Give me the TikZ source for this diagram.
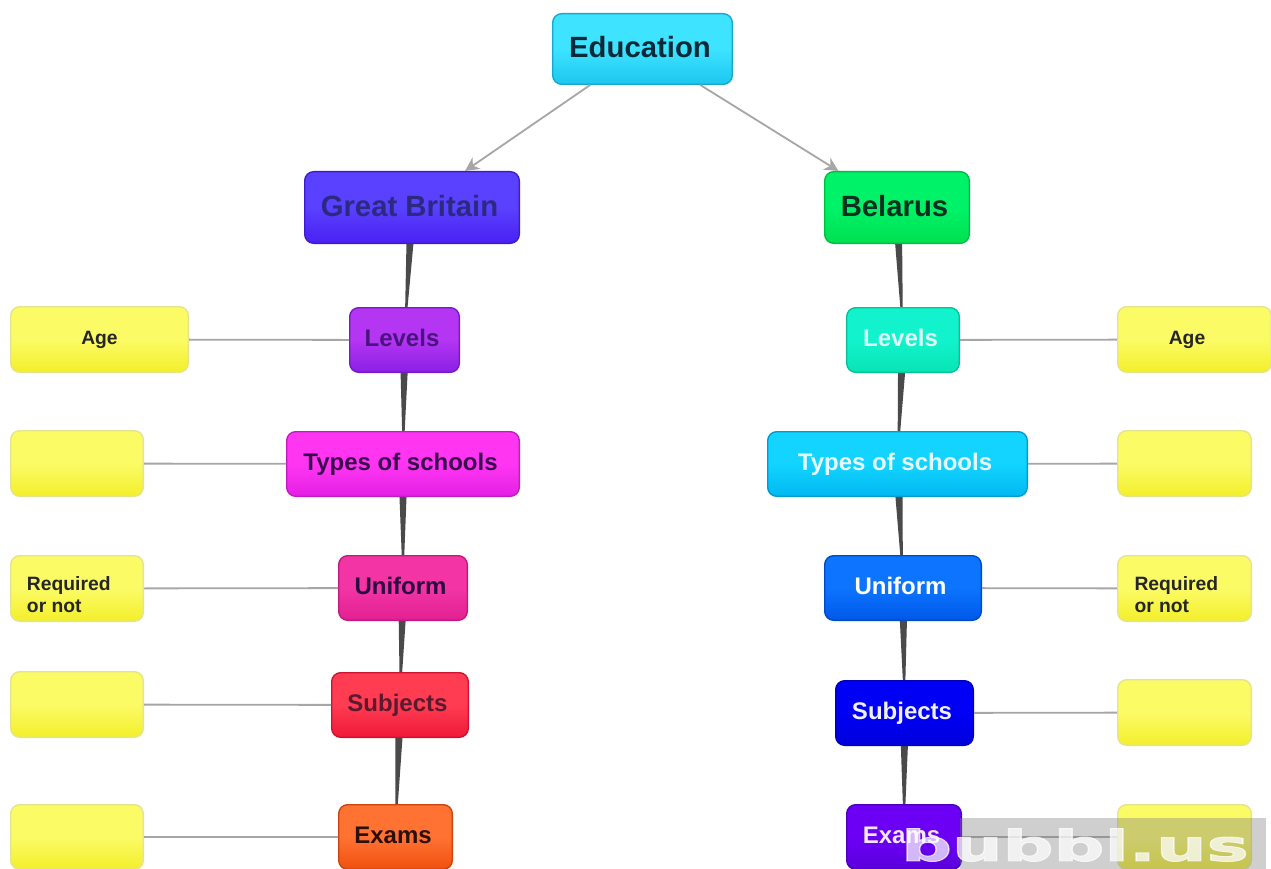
\documentclass[tikz,border=0pt]{standalone}
\usepackage{fontspec}
\setmainfont{Liberation Sans}
\newfontfamily\wmfont[BoldFont={DejaVu Sans Bold},BoldFeatures={FakeBold=2}]{DejaVu Sans}
\usetikzlibrary{calc,backgrounds,arrows.meta}
\definecolor{linegray}{HTML}{A6A6A6}
\definecolor{wedgegray}{HTML}{4A4A4A}
\tikzset{
  x=1pt,y=-1pt,
  box/.style={rectangle,rounded corners=9pt,line width=1.4pt,inner sep=0pt,font=\bfseries\fontsize{24}{27}\selectfont},
  colored/.style={box,text height=18pt,text depth=4.9pt,execute at begin node={\kern-5pt}},
  big/.style={font=\bfseries\fontsize{29.3}{32}\selectfont,text height=22pt,text depth=4.9pt},
  yel/.style={box,draw=yelb,top color=yelt,bottom color=yelb2,middle color=yelt,text=black!85,font=\bfseries\fontsize{19.3}{22}\selectfont},
  link/.style={draw=linegray,line width=1.8pt},
  arrowlink/.style={link,-{Stealth[length=14pt,width=14pt]}},
  taper/.style={fill=wedgegray}
}
\definecolor{yelt}{HTML}{FBFB66}
\definecolor{yelb}{HTML}{E4E48C}
\definecolor{yelb2}{HTML}{F3EF2A}
% name, x1, y1, x2, y2, top, bottom, text colour, style, text
\newcommand{\bx}[9]{%
  \pgfmathsetmacro{\cx}{(#2+#4)/2}\pgfmathsetmacro{\cy}{(#3+#5)/2}%
  \pgfmathsetmacro{\bw}{#4-#2-1.4}\pgfmathsetmacro{\bh}{#5-#3-1.4}%
  \definecolor{tc}{HTML}{#6}\definecolor{bc}{HTML}{#7}\definecolor{fc}{HTML}{#8}%
  \node[colored,draw=bc!85!black,top color=tc,bottom color=bc,middle color=tc,text=fc,minimum width=\bw pt,minimum height=\bh pt,#9] (#1) at (\cx,\cy)}
\newcommand{\yb}[5]{%
  \pgfmathsetmacro{\cx}{(#2+#4)/2}\pgfmathsetmacro{\cy}{(#3+#5)/2}%
  \pgfmathsetmacro{\bw}{#4-#2-1.4}\pgfmathsetmacro{\bh}{#5-#3-1.4}%
  \node[yel,minimum width=\bw pt,minimum height=\bh pt] (#1) at (\cx,\cy)}
\newcommand{\reqtext}{\raisebox{-11.5pt}[0pt][0pt]{\parbox{100pt}{\raggedright Required\\or not}}}
\newcommand{\tapered}[2]{\fill[taper] ($(#1.center)+(-4.8,0)$) -- ($(#1.center)+(4.8,0)$) -- (#2.center) -- cycle;}
\begin{document}
\begin{tikzpicture}
\useasboundingbox (0,0) rectangle (1271,869);
\clip (0,0) rectangle (1271,869);

\bx{edu}{552}{13}{733}{85}{3DE3FF}{1CC6EE}{0A2A3A}{big}{Education};
\bx{gb}{304}{171}{520}{244}{5A40FF}{4A20F2}{2C2A80}{big}{Great Britain};
\bx{by}{824}{171}{970}{244}{00F268}{00E050}{0A3020}{big}{Belarus};

\bx{lvL}{349}{307}{460}{373}{B435F2}{8A20E4}{4A1480}{}{Levels};
\bx{tyL}{286}{431}{520}{497}{FF35F2}{E420E4}{3A0A50}{}{Types of schools};
\bx{unL}{338}{555}{468}{621}{F234A4}{E22092}{2A0A40}{}{Uniform};
\bx{suL}{331}{672}{469}{738}{FF3C52}{F01838}{5A1A30}{}{Subjects};
\bx{exL}{338}{804}{453}{870}{FF7232}{F05010}{2A1008}{}{Exams};

\bx{lvR}{846}{307}{960}{373}{12F2CC}{08E4B4}{DCFFF6}{}{Levels};
\bx{tyR}{767}{431}{1028}{497}{12D4FF}{00B8F0}{E4FAFF}{}{Types of schools};
\bx{unR}{824}{555}{982}{621}{0C74FF}{0058E8}{FFFFFF}{}{Uniform};
\bx{suR}{835}{680}{974}{746}{0000F4}{0000DC}{F0F0FF}{}{Subjects};
\bx{exR}{846}{804}{962}{870}{6C00F4}{5A00DC}{F4E8FF}{}{Exams};

\yb{a1}{10}{306}{189}{373}{Age};
\yb{a2}{10}{430}{144}{497}{};
\yb{a3}{10}{555}{144}{622}{\reqtext};
\yb{a4}{10}{671}{144}{738}{};
\yb{a5}{10}{804}{144}{870}{};
\yb{b1}{1117}{306}{1272}{373}{\kern-15pt Age};
\yb{b2}{1117}{430}{1252}{497}{};
\yb{b3}{1117}{555}{1252}{622}{\reqtext};
\yb{b4}{1117}{679}{1252}{746}{};
\yb{b5}{1117}{804}{1252}{870}{};

\draw[arrowlink] (edu) -- (gb);
\draw[arrowlink] (edu) -- (by);
\foreach \p/\q in {lvL/a1,tyL/a2,unL/a3,suL/a4,exL/a5,lvR/b1,tyR/b2,unR/b3,suR/b4,exR/b5}{
  \draw[link] (\p) -- (\q);
}
\begin{scope}[on background layer]
  \tapered{gb}{lvL}\tapered{lvL}{tyL}\tapered{tyL}{unL}\tapered{unL}{suL}\tapered{suL}{exL}
  \tapered{by}{lvR}\tapered{lvR}{tyR}\tapered{tyR}{unR}\tapered{unR}{suR}\tapered{suR}{exR}
\end{scope}

% watermark
\node[fill=black!50,fill opacity=.38,minimum width=306pt,minimum height=52pt,inner sep=0pt] (wmbar) at (1113,844) {};
\node[text=white,text opacity=.72,inner sep=0pt,font=\wmfont\bfseries\fontsize{45}{45}\selectfont] (wm) at (1075,845) {\scalebox{1.58}[0.95]{bubbl.us}};
\end{tikzpicture}
\end{document}
